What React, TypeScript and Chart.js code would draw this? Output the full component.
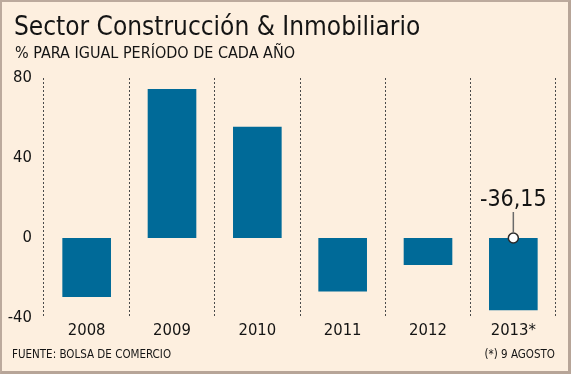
import React, { useEffect, useRef } from 'react';
import { Chart, registerables } from 'chart.js';

Chart.register(...registerables);

const categories = ['2008', '2009', '2010', '2011', '2012', '2013*'];
const changes = [-29.5, 74.5, 55.6, -26.8, -13.5, -36.15];
const markerValues = [null, null, null, null, null, 0];
const calloutText = '-36,15';
const titleText = 'Sector Construcción & Inmobiliario';
const subtitleText = '% PARA IGUAL PERÍODO DE CADA AÑO';
const sourceText = 'FUENTE: BOLSA DE COMERCIO';
const noteText = '(*) 9 AGOSTO';

const FONT = "'DejaVu Sans Condensed', 'DejaVu Sans', sans-serif";
const BG = '#fdefdf';
const BAR = '#006a98';
const INK = '#141414';

const textPlugin = {
  id: 'texts',
  afterDatasetsDraw(chart: any) {
    const ctx = chart.ctx;
    const meta = chart.getDatasetMeta(1);
    const idx = markerValues.findIndex((v) => v !== null);
    const pt = meta.data[idx];
    if (pt) {
      ctx.save();
      ctx.strokeStyle = '#6a6a6a';
      ctx.lineWidth = 1.5;
      ctx.beginPath();
      ctx.moveTo(pt.x, pt.y - 26);
      ctx.lineTo(pt.x, pt.y - 5);
      ctx.stroke();
      ctx.fillStyle = INK;
      ctx.font = `23px ${FONT}`;
      ctx.textAlign = 'center';
      ctx.textBaseline = 'alphabetic';
      ctx.fillText(calloutText, pt.x, pt.y - 32);
      ctx.restore();
    }
  },
  afterDraw(chart: any) {
    const ctx = chart.ctx;
    ctx.save();
    ctx.fillStyle = INK;
    ctx.textBaseline = 'alphabetic';
    ctx.textAlign = 'left';
    ctx.font = `26px ${FONT}`;
    ctx.fillText(titleText, 14, 35);
    ctx.font = `16px ${FONT}`;
    ctx.fillText(subtitleText, 15, 58);
    ctx.font = `11.5px ${FONT}`;
    ctx.fillText(sourceText, 12, 358);
    ctx.textAlign = 'right';
    ctx.fillText(noteText, 555, 358);
    ctx.restore();
  },
};

export default function App() {
  const ref = useRef<HTMLCanvasElement>(null);
  useEffect(() => {
    document.body.style.margin = '0';
    const chart = new Chart(ref.current!, {
      type: 'bar',
      data: {
        labels: categories,
        datasets: [
          {
            type: 'bar',
            data: changes,
            backgroundColor: BAR,
            borderWidth: 0,
            barPercentage: 0.57,
            categoryPercentage: 1,
            order: 1,
          } as any,
          {
            type: 'line',
            data: markerValues,
            showLine: false,
            pointRadius: 5,
            pointBackgroundColor: '#ffffff',
            pointBorderColor: '#2a2a2a',
            pointBorderWidth: 1.5,
            order: 0,
          } as any,
        ],
      },
      options: {
        animation: false,
        responsive: false,
        devicePixelRatio: 1,
        layout: { padding: { top: 78, left: 0, right: 15, bottom: 0 } },
        plugins: { legend: { display: false }, tooltip: { enabled: false } },
        scales: {
          x: {
            offset: true,
            grid: {
              display: true,
              offset: true,
              drawTicks: false,
              color: '#4a4a4a',
              lineWidth: 1,
            },
            border: { display: false, dash: [2, 2] },
            ticks: { color: INK, font: { family: FONT, size: 16.5 }, padding: 3 },
            afterFit: (s: any) => { s.height = 56; },
          },
          y: {
            min: -40,
            max: 80,
            grid: { display: false },
            border: { display: false },
            ticks: { stepSize: 40, color: INK, font: { family: FONT, size: 16.5 }, padding: 4 },
            afterFit: (s: any) => { s.width = 44; },
          },
        },
      },
      plugins: [textPlugin],
    } as any);
    return () => chart.destroy();
  }, []);
  return (
    <div style={{ position: 'relative', width: 571, height: 374, background: BG, overflow: 'hidden' }}>
      <canvas ref={ref} width={571} height={374} style={{ display: 'block' }} />
      <div
        style={{
          position: 'absolute', left: 0, top: 0, width: 571, height: 374, boxSizing: 'border-box',
          borderTop: '2px solid #bcaa9d', borderLeft: '2px solid #bcaa9d',
          borderRight: '3px solid #b7a598', borderBottom: '3px solid #b7a598', pointerEvents: 'none',
        }}
      />
    </div>
  );
}
